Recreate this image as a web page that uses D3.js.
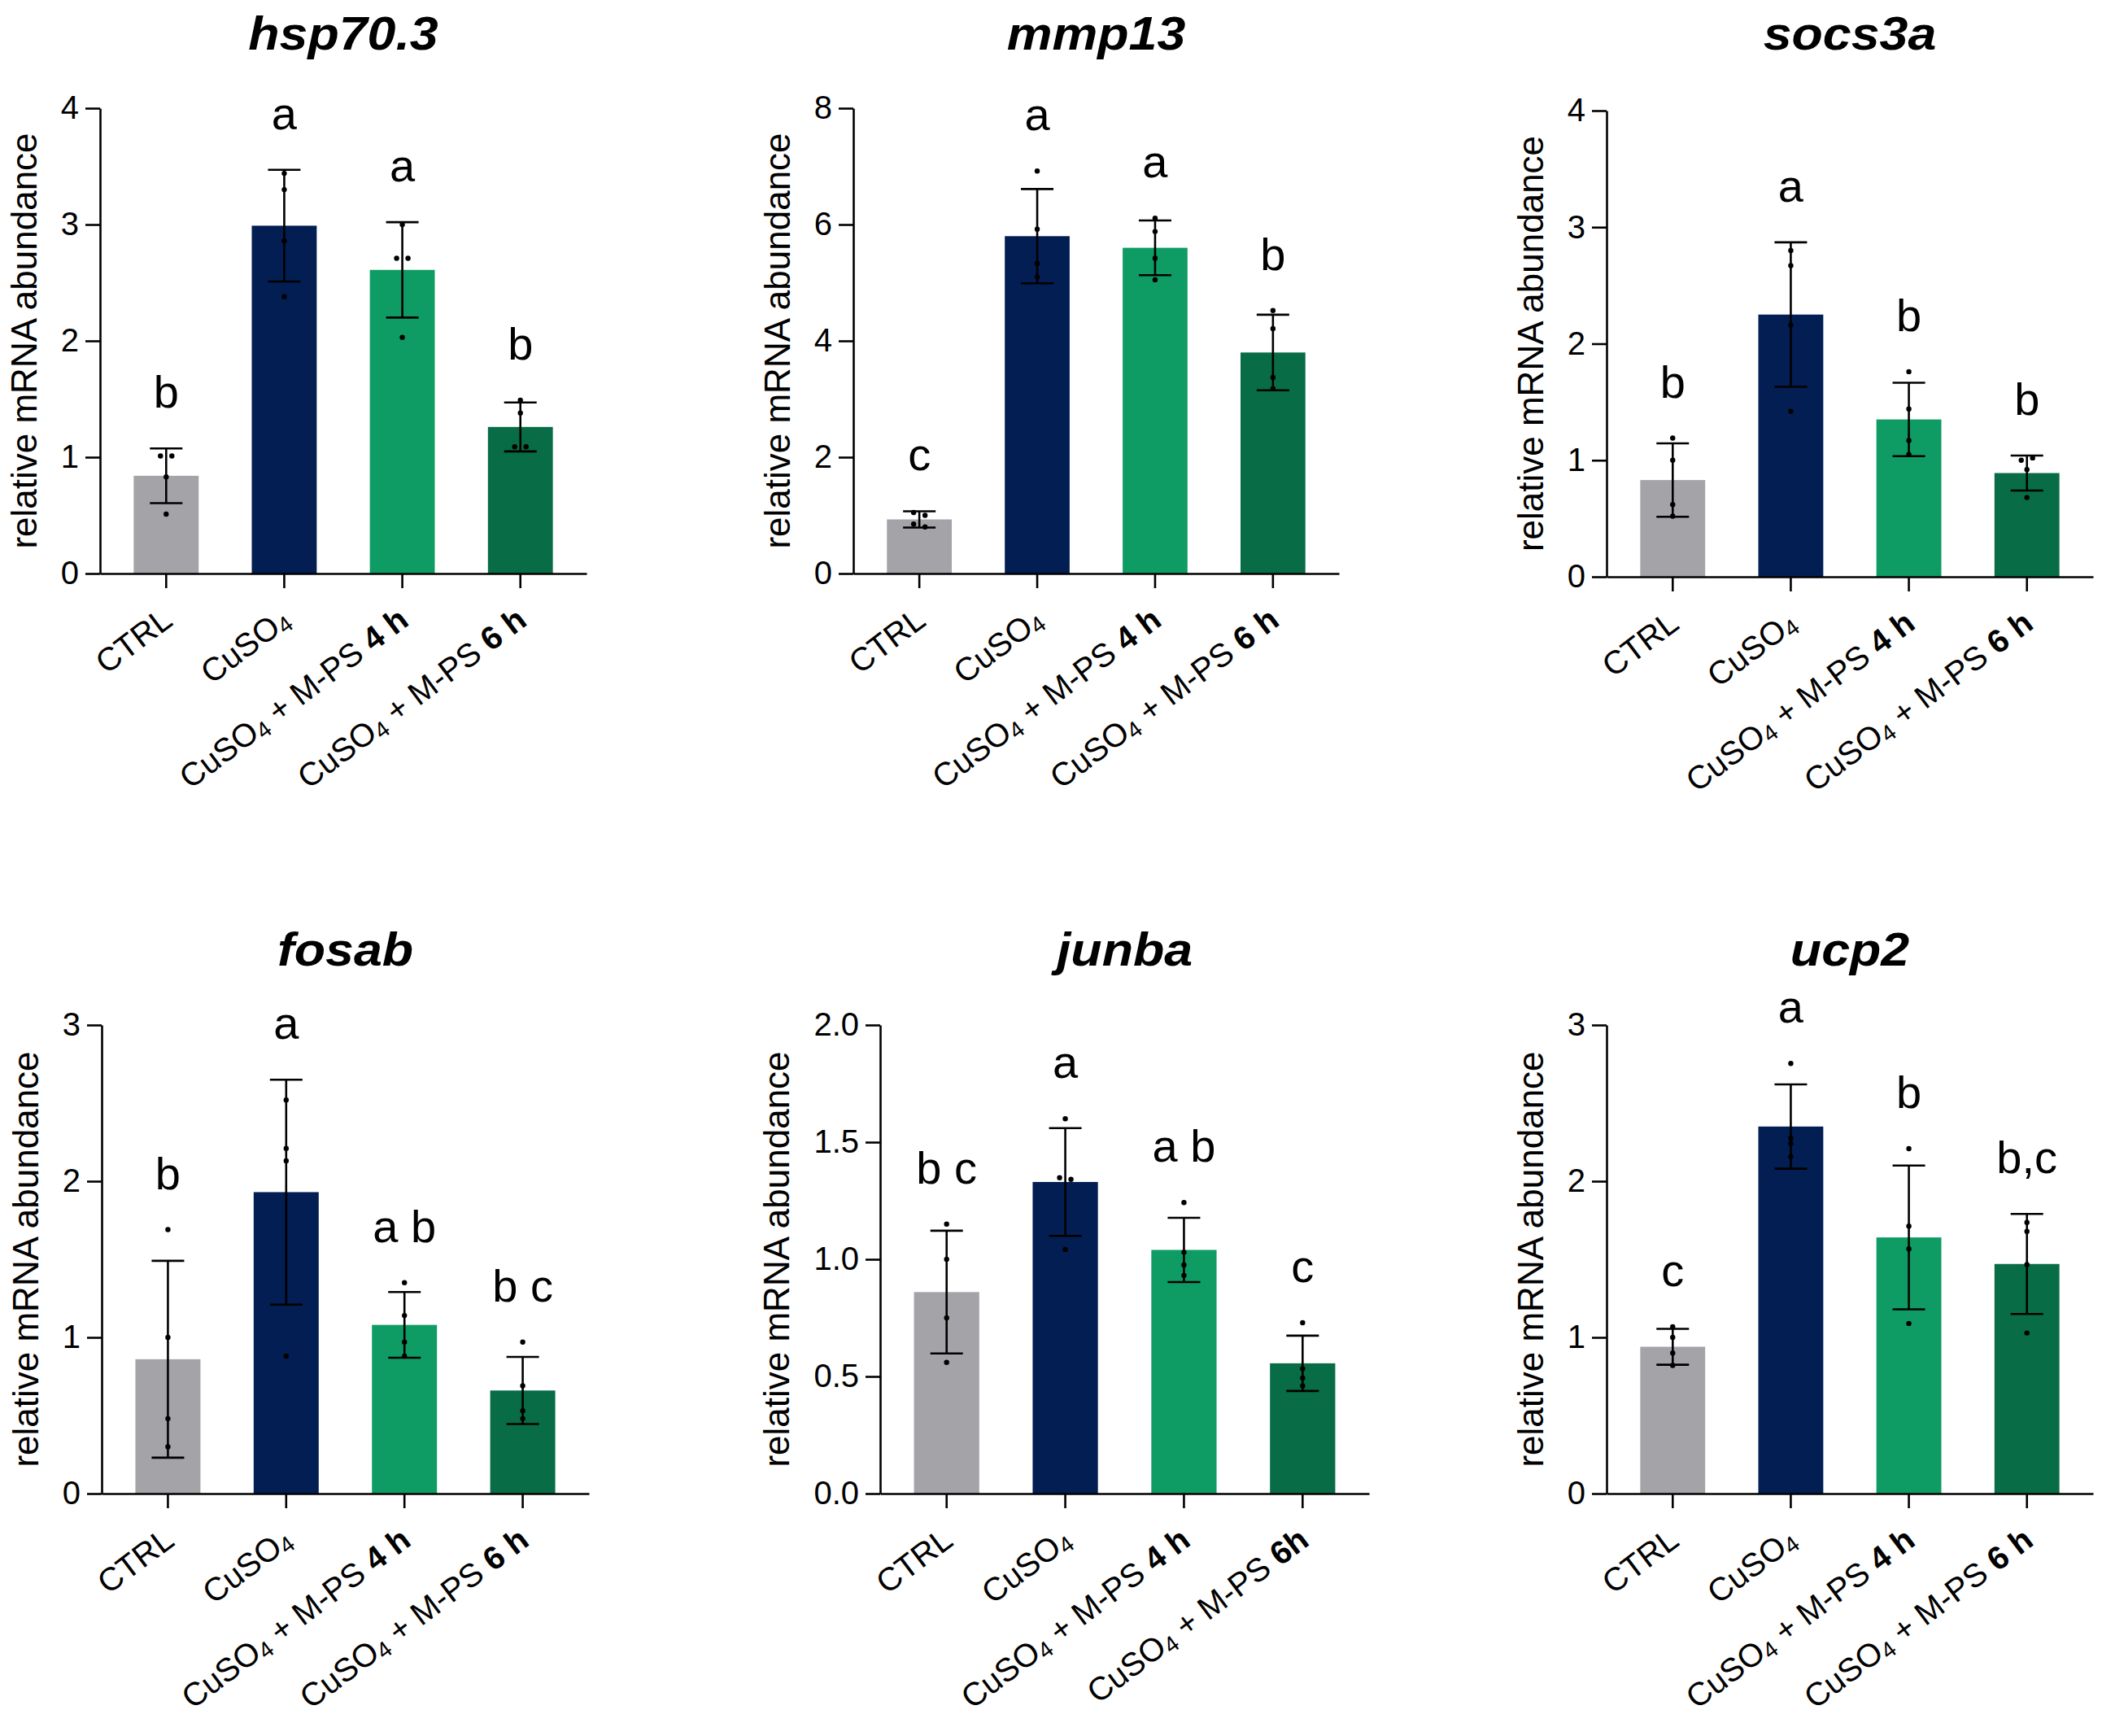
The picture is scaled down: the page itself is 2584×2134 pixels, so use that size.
<!DOCTYPE html>
<html>
<head>
<meta charset="UTF-8">
<title>relative mRNA abundance</title>
<script src="https://cdn.jsdelivr.net/npm/d3@7/dist/d3.min.js"></script>
<style>
body { margin: 0; background: #fff; }
text { font-family: "Liberation Sans", Arial, sans-serif; fill: #000; }
</style>
</head>
<body>
<div id="chart"></div>
<script>

// categories
var groups = ['CTRL', 'CuSO4', 'CuSO4 + M-PS 4 h', 'CuSO4 + M-PS 6 h'];
var groupsJunba = ['CTRL', 'CuSO4', 'CuSO4 + M-PS 4 h', 'CuSO4 + M-PS 6h'];
var genes = ['hsp70.3', 'mmp13', 'socs3a', 'fosab', 'junba', 'ucp2'];
var barColors = ['#a3a3a8', '#021e52', '#0e9c64', '#086c46'];

// hsp70.3
var hspMean = [0.84, 2.99, 2.61, 1.26];
var hspSd = [0.235, 0.48, 0.41, 0.21];
var hspPoints = [[1.01, 1.01, 0.83, 0.51], [3.44, 3.30, 2.86, 2.38], [3.0, 2.71, 2.71, 2.03], [1.49, 1.38, 1.09, 1.09]];
var hspLetters = ['b', 'a', 'a', 'b'];
var hspTicks = [0, 1, 2, 3, 4];

// mmp13
var mmpMean = [0.93, 5.8, 5.6, 3.8];
var mmpSd = [0.14, 0.81, 0.47, 0.65];
var mmpPoints = [[1.05, 1.0, 0.85, 0.8], [6.92, 5.92, 5.33, 5.1], [6.11, 5.88, 5.42, 5.05], [4.52, 4.21, 3.37, 3.18]];
var mmpLetters = ['c', 'a', 'a', 'b'];
var mmpTicks = [0, 2, 4, 6, 8];

// socs3a
var socsMean = [0.83, 2.25, 1.35, 0.89];
var socsSd = [0.315, 0.62, 0.315, 0.15];
var socsPoints = [[1.19, 1.0, 0.62, 0.52], [2.8, 2.67, 2.16, 1.42], [1.76, 1.44, 1.17, 1.05], [1.0, 1.02, 0.92, 0.68]];
var socsLetters = ['b', 'a', 'b', 'b'];
var socsTicks = [0, 1, 2, 3, 4];

// fosab
var fosMean = [0.86, 1.93, 1.08, 0.66];
var fosSd = [0.63, 0.72, 0.21, 0.215];
var fosPoints = [[1.69, 1.0, 0.48, 0.3], [2.52, 2.21, 2.13, 0.88], [1.35, 1.14, 0.97, 0.88], [0.97, 0.69, 0.53, 0.48]];
var fosLetters = ['b', 'a', 'a b', 'b c'];
var fosTicks = [0, 1, 2, 3];

// junba
var junMean = [0.86, 1.33, 1.04, 0.556];
var junSd = [0.262, 0.23, 0.137, 0.118];
var junPoints = [[1.15, 1.0, 0.75, 0.56], [1.6, 1.348, 1.341, 1.042], [1.242, 1.03, 0.976, 0.931], [0.729, 0.533, 0.493, 0.459]];
var junLetters = ['b c', 'a', 'a b', 'c'];
var junTicks = [0, 0.5, 1.0, 1.5, 2.0];

// ucp2
var ucpMean = [0.94, 2.35, 1.64, 1.47];
var ucpSd = [0.115, 0.27, 0.46, 0.32];
var ucpPoints = [[1.068, 1.0, 0.9, 0.82], [2.754, 2.275, 2.241, 2.157], [2.208, 1.712, 1.567, 1.089], [1.736, 1.678, 1.466, 1.028]];
var ucpLetters = ['c', 'a', 'b', 'b,c'];
var ucpTicks = [0, 1, 2, 3];

var W = 2584, H = 2134;

// panel frames (axis x, axis end, top, baseline, title baseline)
var layout = [
    {x0: 123, x1: 721, yTop: 133, yBase: 705, titleY: 61},
    {x0: 1049, x1: 1646, yTop: 133, yBase: 705, titleY: 61},
    {x0: 1975, x1: 2573, yTop: 136, yBase: 709, titleY: 61},
    {x0: 125, x1: 724, yTop: 1260, yBase: 1836, titleY: 1187},
    {x0: 1082, x1: 1683, yTop: 1260, yBase: 1836, titleY: 1187},
    {x0: 1975, x1: 2573, yTop: 1260, yBase: 1836, titleY: 1187}
];

var panels = [
    {mean: hspMean, sd: hspSd, pts: hspPoints, letters: hspLetters, ticks: hspTicks, cats: groups, fmt: d3.format('d')},
    {mean: mmpMean, sd: mmpSd, pts: mmpPoints, letters: mmpLetters, ticks: mmpTicks, cats: groups, fmt: d3.format('d')},
    {mean: socsMean, sd: socsSd, pts: socsPoints, letters: socsLetters, ticks: socsTicks, cats: groups, fmt: d3.format('d')},
    {mean: fosMean, sd: fosSd, pts: fosPoints, letters: fosLetters, ticks: fosTicks, cats: groups, fmt: d3.format('d')},
    {mean: junMean, sd: junSd, pts: junPoints, letters: junLetters, ticks: junTicks, cats: groupsJunba, fmt: d3.format('.1f')},
    {mean: ucpMean, sd: ucpSd, pts: ucpPoints, letters: ucpLetters, ticks: ucpTicks, cats: groups, fmt: d3.format('d')}
];

var svg = d3.select('#chart').append('svg')
    .attr('width', W)
    .attr('height', H);

svg.append('rect').attr('width', W).attr('height', H).attr('fill', '#fff');

var tickLen = 18;
var strokeW = 2.6;

// writes "CuSO4 + M-PS 4 h" with subscript 4 and bold time
function writeLabel(sel, label) {
    var rest = label;
    if (rest.indexOf('CuSO4') === 0) {
        sel.append('tspan').text('CuSO');
        sel.append('tspan').attr('font-size', 28).attr('dy', 5).text('4');
        rest = rest.slice(5);
        if (rest.length) {
            var m = rest.match(/^(.*M-PS )(.+)$/);
            sel.append('tspan').attr('dy', -5).text(m[1].replace(/ /g, '\u00a0'));
            sel.append('tspan').attr('font-weight', 'bold').text(m[2].replace(/ /g, '\u00a0'));
        }
    } else {
        sel.text(rest);
    }
}

panels.forEach(function(p, k) {
    var L = layout[k];
    var g = svg.append('g').attr('class', 'panel');

    var xScale = d3.scaleBand()
        .domain(p.cats)
        .range([L.x0, L.x1])
        .paddingInner(0)
        .paddingOuter(0.06);
    var yScale = d3.scaleLinear()
        .domain([0, d3.max(p.ticks)])
        .range([L.yBase, L.yTop]);

    var barW = xScale.bandwidth() * 0.55;
    var cx = function(i) { return xScale(p.cats[i]) + xScale.bandwidth() / 2; };

    // bars
    g.selectAll('rect.bar')
        .data(p.mean)
        .enter()
        .append('rect')
        .attr('class', 'bar')
        .attr('x', function(d, i) { return cx(i) - barW / 2; })
        .attr('y', function(d) { return yScale(d); })
        .attr('width', barW)
        .attr('height', function(d) { return L.yBase - yScale(d); })
        .attr('fill', function(d, i) { return barColors[i]; });

    // error bars
    p.mean.forEach(function(m, i) {
        var hi = yScale(m + p.sd[i]), lo = yScale(m - p.sd[i]), x = cx(i);
        var eb = g.append('g').attr('stroke', '#000').attr('stroke-width', strokeW);
        eb.append('line').attr('x1', x).attr('x2', x).attr('y1', hi).attr('y2', lo);
        eb.append('line').attr('x1', x - 20).attr('x2', x + 20).attr('y1', hi).attr('y2', hi);
        eb.append('line').attr('x1', x - 20).attr('x2', x + 20).attr('y1', lo).attr('y2', lo);

        // points, spread sideways when they overlap
        var pts = p.pts[i];
        pts.forEach(function(v, j) {
            var dup = pts.filter(function(w) { return Math.abs(yScale(w) - yScale(v)) < 6; });
            var off = 0;
            if (dup.length > 1) {
                var idx = pts.slice(0, j).filter(function(w) { return Math.abs(yScale(w) - yScale(v)) < 6; }).length;
                off = idx === 0 ? -7 : 7;
            }
            g.append('circle')
                .attr('cx', x + off)
                .attr('cy', yScale(v))
                .attr('r', 3.2)
                .attr('fill', '#000');
        });

        // significance letters
        var top = Math.max(m + p.sd[i], d3.max(pts));
        g.append('text')
            .attr('x', x)
            .attr('y', yScale(top) - 50)
            .attr('text-anchor', 'middle')
            .attr('font-size', 56)
            .text(p.letters[i].replace(/ /g, '\u00a0'));
    });

    // y axis
    var yAxis = d3.axisLeft(yScale)
        .tickValues(p.ticks)
        .tickFormat(p.fmt)
        .tickSize(tickLen)
        .tickSizeOuter(0)
        .tickPadding(8);
    var ya = g.append('g')
        .attr('transform', 'translate(' + L.x0 + ',0)')
        .call(yAxis);
    ya.selectAll('text').attr('font-size', 40).attr('font-family', null);
    ya.selectAll('line, path').attr('stroke', '#000').attr('stroke-width', strokeW);

    var maxW = 0;
    ya.selectAll('text').each(function() { maxW = Math.max(maxW, this.getBBox().width); });

    // x axis
    var xAxis = d3.axisBottom(xScale)
        .tickSize(tickLen)
        .tickSizeOuter(0)
        .tickFormat('');
    var xa = g.append('g')
        .attr('transform', 'translate(0,' + L.yBase + ')')
        .call(xAxis);
    xa.selectAll('line, path').attr('stroke', '#000').attr('stroke-width', strokeW);

    p.cats.forEach(function(c, i) {
        var t = g.append('text')
            .attr('transform', 'translate(' + (cx(i) + 10) + ',' + (L.yBase + 62) + ') rotate(-37)')
            .attr('text-anchor', 'end')
            .attr('font-size', 40);
        writeLabel(t, c);
    });

    // y label
    var yl = L.x0 - tickLen - 8 - maxW - 30;
    g.append('text')
        .attr('transform', 'translate(' + yl + ',' + ((L.yTop + L.yBase) / 2) + ') rotate(-90)')
        .attr('text-anchor', 'middle')
        .attr('font-size', 44)
        .text('relative mRNA abundance');

    // title (slightly wide face in the original)
    g.append('text')
        .attr('transform', 'translate(' + ((L.x0 + L.x1) / 2) + ',' + L.titleY + ') scale(1.1,1)')
        .attr('text-anchor', 'middle')
        .attr('font-size', 57)
        .attr('font-weight', 'bold')
        .attr('font-style', 'italic')
        .text(genes[k]);
});
</script>
</body>
</html>
